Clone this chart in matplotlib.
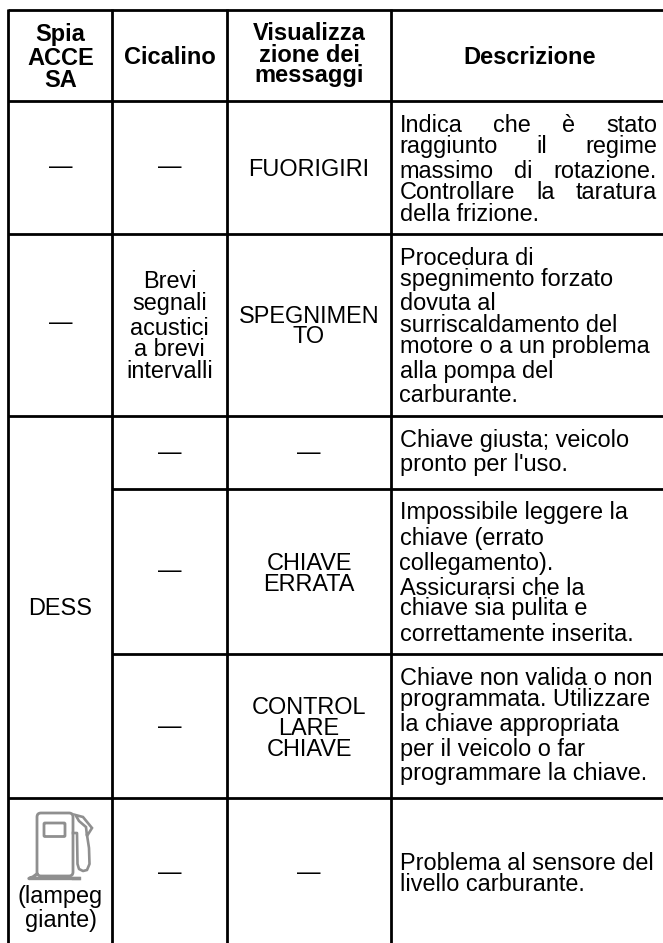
import matplotlib
matplotlib.use("Agg")
import matplotlib.pyplot as plt
from matplotlib.patches import FancyBboxPatch, Polygon

W, H = 663, 943
plt.rcParams['font.family'] = ['Liberation Sans', 'DejaVu Sans']

# ---- content ----
dash = "—"
header_texts = [["Spia", "ACCE", "SA"], ["Cicalino"], ["Visualizza", "zione dei", "messaggi"], ["Descrizione"]]
lamp_cells = [[dash], [dash], ["DESS"], ["(lampeg", "giante)"]]
buzzer_cells = [[dash], ["Brevi", "segnali", "acustici", "a brevi", "intervalli"], [dash], [dash], [dash], [dash]]
message_cells = [["FUORIGIRI"], ["SPEGNIMEN", "TO"], [dash], ["CHIAVE", "ERRATA"], ["CONTROL", "LARE", "CHIAVE"], [dash]]
desc_cells = [
    ["Indica che è stato", "raggiunto il regime", "massimo di rotazione.", "Controllare la taratura", "della frizione."],
    ["Procedura di", "spegnimento forzato", "dovuta al", "surriscaldamento del", "motore o a un problema", "alla pompa del", "carburante."],
    ["Chiave giusta; veicolo", "pronto per l'uso."],
    ["Impossibile leggere la", "chiave (errato", "collegamento).", "Assicurarsi che la", "chiave sia pulita e", "correttamente inserita."],
    ["Chiave non valida o non", "programmata. Utilizzare", "la chiave appropriata", "per il veicolo o far", "programmare la chiave."],
    ["Problema al sensore del", "livello carburante."],
]

# ---- layout (pixels, from top-left) ----
col_x = [8, 112, 227, 391, 663]
row_y = [10, 101, 234, 416, 489, 654, 798]
inner_rows = {489, 654}
col_c = [60.5, 169.5, 309, 529.5]
desc_x = 399.5
desc_right = 657

header_base = [[41, 65, 87], [64], [40, 62, 82], [64]]
lamp_base = [[173.5], [329.5], [615], [903, 927]]
buzzer_base = [[173.5], [288, 310, 335, 356, 378], [458.5], [576.5], [732.5], [878.5]]
message_base = [[176], [323, 343], [458.5], [570, 591], [714, 735, 756], [878.5]]
desc_base = [
    [132, 153, 178, 199, 221],
    [265, 286, 310, 332, 353, 378, 402],
    [447, 471],
    [519, 545, 570, 595, 615, 641],
    [685, 706, 731, 756, 780],
    [870, 891],
]

FS = 16.9
FS_HEAD = 17.0

fig = plt.figure(figsize=(W / 100, H / 100), dpi=100)
ax = fig.add_axes([0, 0, 1, 1])
ax.set_xlim(0, W)
ax.set_ylim(H, 0)
ax.axis('off')

# grid
LW = 2.0
for x in col_x[:-1]:
    ax.plot([x, x], [row_y[0] - 1.3, H], color='black', lw=LW, solid_capstyle='butt')
for y in row_y:
    x0 = col_x[1] if y in inner_rows else col_x[0]
    ax.plot([x0, W], [y, y], color='black', lw=LW, solid_capstyle='butt')

def put(x, y, s, ha='center', weight='normal', fs=FS):
    return ax.text(x, y, s, ha=ha, va='baseline', fontsize=fs, weight=weight, color='black')

def block(x, lines, bases, **kw):
    for s, y in zip(lines, bases):
        put(x, y, s, **kw)

def justified(line, y):
    words = line.split(" ")
    r = fig.canvas.get_renderer()
    probe = [put(0, 0, w, ha='left') for w in words]
    widths = [t.get_window_extent(r).width for t in probe]
    for t in probe:
        t.remove()
    gap = (desc_right - desc_x - sum(widths)) / (len(words) - 1)
    x = desc_x
    for w, wd in zip(words, widths):
        put(x, y, w, ha='left')
        x += wd + gap

for i in range(4):
    block(col_c[i], header_texts[i], header_base[i], weight='bold', fs=FS_HEAD)
for i in range(4):
    block(col_c[0], lamp_cells[i], lamp_base[i])
for j in range(6):
    block(col_c[1], buzzer_cells[j], buzzer_base[j])
    block(col_c[2], message_cells[j], message_base[j])

for j, (lines, bases) in enumerate(zip(desc_cells, desc_base)):
    for k, (s, y) in enumerate(zip(lines, bases)):
        if j == 0 and k < 4:
            justified(s, y)
        else:
            put(desc_x, y, s, ha='left')

# fuel pump icon
g = '#8f8f8f'
ax.add_patch(FancyBboxPatch((37, 813), 36, 63, boxstyle="round,pad=0,rounding_size=4", fill=False, ec=g, lw=2.0))
ax.add_patch(FancyBboxPatch((44, 823), 21, 13.5, boxstyle="round,pad=0,rounding_size=1", fill=False, ec=g, lw=2.0))
ax.plot([37, 33, 29, 79], [874, 877, 878.5, 878.5], color=g, lw=2.4)
ax.plot([73, 79], [878, 878], color=g, lw=2.4)
ax.plot([73, 77, 77.5, 79, 83, 87, 89.5, 89, 87], [833, 833, 864, 869, 871, 870, 864, 848, 835], color=g, lw=1.9)
ax.add_patch(Polygon([[75.5, 815], [83, 817], [92, 828], [87, 836], [86, 827], [79, 821]], closed=True, fill=False, ec=g, lw=1.9))

fig.savefig('out.png', dpi=100)
